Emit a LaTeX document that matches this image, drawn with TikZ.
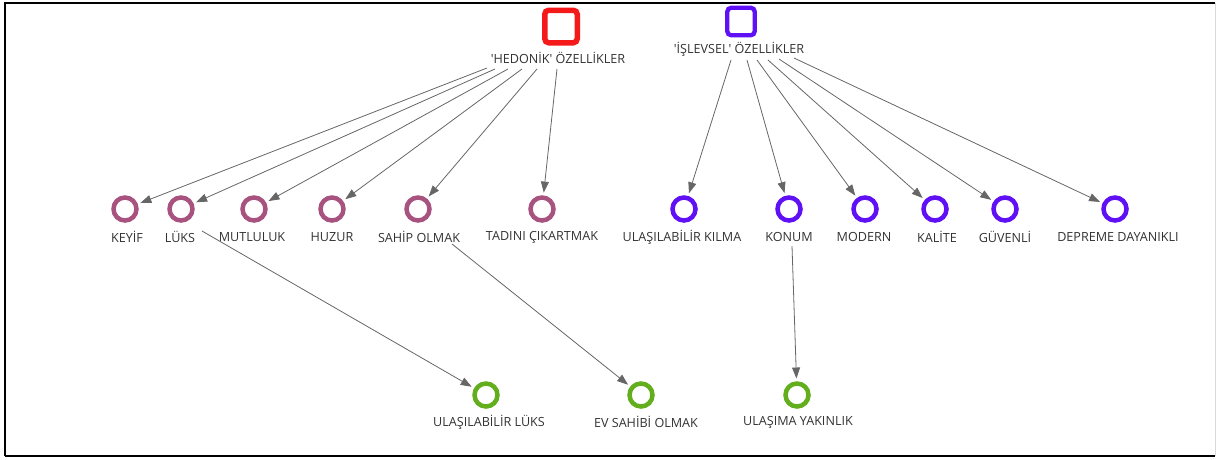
\documentclass[tikz,border=0pt]{standalone}
\usepackage{fontspec}
\setmainfont{Open Sans}
\usetikzlibrary{arrows.meta}
\definecolor{hred}{HTML}{F51A1A}
\definecolor{hblue}{HTML}{6010F5}
\definecolor{mauve}{HTML}{A8527F}
\definecolor{vblue}{HTML}{6010F5}
\definecolor{lgreen}{HTML}{62AE1C}
\definecolor{txt}{HTML}{333333}
\definecolor{edge}{HTML}{666666}
\begin{document}
\begin{tikzpicture}[x=1pt,y=-1pt,
  lbl/.style={font=\fontsize{12.6}{14}\selectfont, text=txt, inner sep=1pt},
  ring/.style={circle, draw=#1, line width=4.5pt, minimum size=23pt, inner sep=0pt, outer sep=5pt},
  sq/.style={draw=#1, rounded corners=4pt, inner sep=0pt},
  link/.style={draw=edge, line width=0.8pt, -{Triangle[length=11pt,width=8pt]}}
]
\useasboundingbox (0,0) rectangle (1216,459);
% frame
\draw[line width=2.3pt] (5,456) -- (5,2.8) -- (1215,2.8);
\draw[line width=2.3pt] (5,456) -- (1215,456);
\draw[line width=1pt, black!15] (1215,2.8) -- (1215,456);

% top nodes
\node[sq=hred, line width=5.5pt, minimum size=32.5pt] (hed) at (561,26.5) {};
\node[sq=hblue, line width=4.3pt, minimum size=27.5pt] (isl) at (741,21.5) {};
\node[lbl] (hedl) at (558,58) {\textquotesingle HEDONİK\textquotesingle\ ÖZELLİKLER};
\node[lbl] (isll) at (739,49) {\textquotesingle İŞLEVSEL\textquotesingle\ ÖZELLİKLER};

% hedonik row
\node[ring=mauve] (keyif) at (125,209) {};
\node[ring=mauve] (luks) at (181,209) {};
\node[ring=mauve] (mutl) at (254,209) {};
\node[ring=mauve] (huzur) at (332,209) {};
\node[ring=mauve] (sahip) at (418,209) {};
\node[ring=mauve] (tadini) at (542,209) {};
\node[lbl] (keyifl) at (127,237) {KEYİF};
\node[lbl] (luksl) at (180,237) {LÜKS};
\node[lbl] (mutll) at (252,237) {MUTLULUK};
\node[lbl] (huzurl) at (332,237) {HUZUR};
\node[lbl] (sahipl) at (419,237) {SAHİP OLMAK};
\node[lbl] (tadinil) at (542,237) {TADINI ÇIKARTMAK};

% islevsel row
\node[ring=vblue] (ulas) at (684,209) {};
\node[ring=vblue] (konum) at (789,209) {};
\node[ring=vblue] (modern) at (865,209) {};
\node[ring=vblue] (kalite) at (935,209) {};
\node[ring=vblue] (guven) at (1005,209) {};
\node[ring=vblue] (deprem) at (1115,209) {};
\node[lbl] (ulasl) at (682,237) {ULAŞILABİLİR KILMA};
\node[lbl] (konuml) at (789,237) {KONUM};
\node[lbl] (modernl) at (864,237) {MODERN};
\node[lbl] (kalitel) at (937,237) {KALİTE};
\node[lbl] (guvenl) at (1005,237) {GÜVENLİ};
\node[lbl] (depreml) at (1118,237) {DEPREME DAYANIKLI};

% green row
\node[ring=lgreen] (ulux) at (486,395) {};
\node[ring=lgreen] (evsah) at (641,395) {};
\node[ring=lgreen] (ulyak) at (797,395) {};
\node[lbl] (uluxl) at (489,422) {ULAŞILABİLİR LÜKS};
\node[lbl] (evsahl) at (646,422) {EV SAHİBİ OLMAK};
\node[lbl] (ulyakl) at (798,422) {ULAŞIMA YAKINLIK};

% start points
\coordinate (h1) at (487,68);
\coordinate (h2) at (495,69);
\coordinate (h3) at (508,69);
\coordinate (h4) at (522,69);
\coordinate (h5) at (537,69);
\coordinate (h6) at (557,69);
\coordinate (i1) at (731,60);
\coordinate (i2) at (747,60);
\coordinate (i3) at (757,60);
\coordinate (i4) at (768,60);
\coordinate (i5) at (779,59);
\coordinate (i6) at (794,58);
\coordinate (l1) at (202,231);
\coordinate (l2) at (452,244);
\coordinate (l3) at (792,246);

\draw[link] (h1) -- (keyif);
\draw[link] (h2) -- (luks);
\draw[link] (h3) -- (mutl);
\draw[link] (h4) -- (huzur);
\draw[link] (h5) -- (sahip);
\draw[link] (h6) -- (tadini);
\draw[link] (i1) -- (ulas);
\draw[link] (i2) -- (konum);
\draw[link] (i3) -- (modern);
\draw[link] (i4) -- (kalite);
\draw[link] (i5) -- (guven);
\draw[link] (i6) -- (deprem);
\draw[link] (l1) -- (ulux);
\draw[link] (l2) -- (evsah);
\draw[link] (l3) -- (ulyak);
\end{tikzpicture}
\end{document}
